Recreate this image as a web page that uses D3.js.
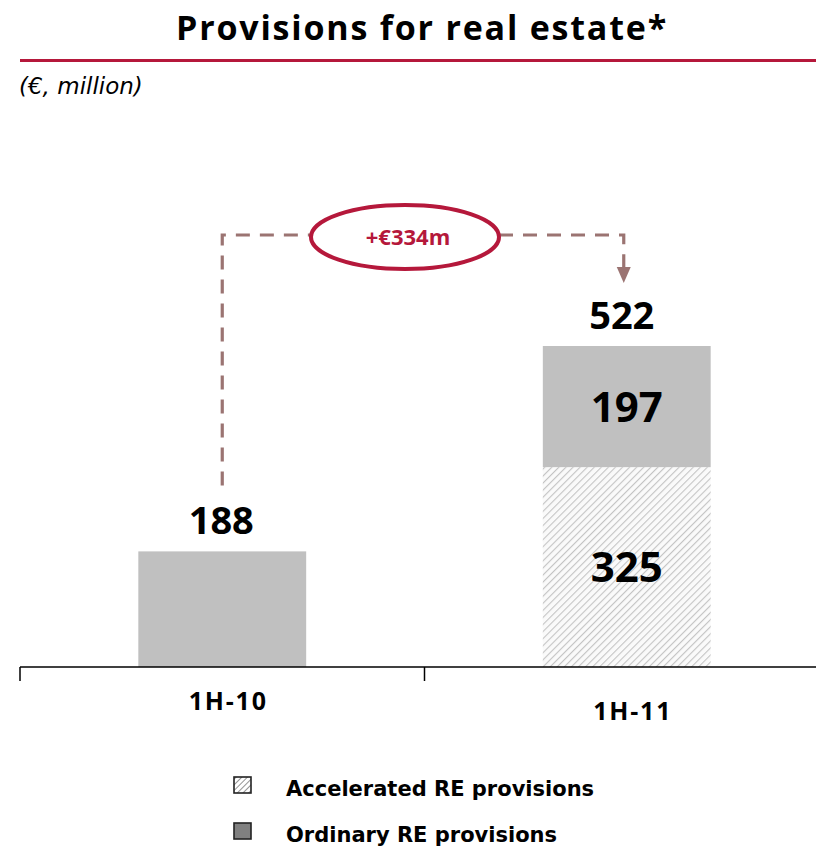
<!DOCTYPE html>
<html>
<head>
<meta charset="utf-8">
<script src="https://cdn.jsdelivr.net/npm/d3@7/dist/d3.min.js"></script>
<style>
  html, body { margin: 0; padding: 0; background: #fff; }
  svg { display: block; }
</style>
</head>
<body>
<script>
// Provisions for real estate, € million
const categories = ["1H-10", "1H-11"];
const accelerated = [0, 325];
const ordinary = [188, 197];
const seriesNames = ["Accelerated RE provisions", "Ordinary RE provisions"];

const W = 816, H = 848;
const numFont = "Open Sans, Liberation Sans, Arial, sans-serif";
const legFont = "DejaVu Sans, Verdana, sans-serif";

const svg = d3.select("body").append("svg").attr("width", W).attr("height", H);

const defs = svg.append("defs");
const hatch = defs.append("pattern")
  .attr("id", "hatch").attr("patternUnits", "userSpaceOnUse")
  .attr("width", 5).attr("height", 5)
  .attr("patternTransform", "rotate(45)");
hatch.append("rect").attr("width", 5).attr("height", 5).attr("fill", "#fafafa");
hatch.append("line").attr("x1", 0).attr("y1", 0).attr("x2", 0).attr("y2", 5)
  .attr("stroke", "#c4c4c4").attr("stroke-width", 2.2);

const hatchSmall = defs.append("pattern")
  .attr("id", "hatchSmall").attr("patternUnits", "userSpaceOnUse")
  .attr("width", 4).attr("height", 4)
  .attr("patternTransform", "rotate(45)");
hatchSmall.append("rect").attr("width", 4).attr("height", 4).attr("fill", "#fff");
hatchSmall.append("line").attr("x1", 0).attr("y1", 0).attr("x2", 0).attr("y2", 4)
  .attr("stroke", "#777").attr("stroke-width", 1.6);

// Title and rule
svg.append("text").attr("x", 422).attr("y", 40).attr("text-anchor", "middle")
  .attr("font-family", numFont).attr("font-weight", "bold")
  .attr("letter-spacing", 1.8)
  .attr("font-size", 34).attr("fill", "#000").text("Provisions for real estate*");
svg.append("rect").attr("x", 20).attr("y", 59).attr("width", W - 20).attr("height", 3)
  .attr("fill", "#b5183b");
svg.append("text").attr("x", 19).attr("y", 94)
  .attr("font-family", "DejaVu Sans, Verdana, sans-serif").attr("font-style", "italic")
  .attr("font-size", 23).attr("fill", "#000").text("(€, million)");

// Scales
const x = d3.scaleBand().domain(categories).range([20, 829])
  .paddingInner(0.585).paddingOuter(0.2925);
const step = x.step();
const totals = categories.map((c, i) => accelerated[i] + ordinary[i]);
const y = d3.scaleLinear().domain([0, d3.max(totals)]).range([667, 346]);

const rows = categories.map((c, i) => ({ cat: c, accelerated: accelerated[i], ordinary: ordinary[i] }));
const stack = d3.stack().keys(["accelerated", "ordinary"])(rows);
const fills = { accelerated: "url(#hatch)", ordinary: "#c0c0c0" };

svg.append("g").selectAll("g").data(stack).join("g")
  .attr("fill", d => fills[d.key])
  .selectAll("rect").data(d => d.filter(p => p[1] > p[0])).join("rect")
  .attr("x", d => x(d.data.cat))
  .attr("width", x.bandwidth())
  .attr("y", d => y(d[1]))
  .attr("height", d => y(d[0]) - y(d[1]));

// Axis
const axisG = svg.append("g").attr("stroke", "#000").attr("stroke-width", 1.5);
axisG.append("line").attr("x1", 20).attr("x2", W).attr("y1", y(0)).attr("y2", y(0));
const tickXs = [20].concat(categories.map(c => x(c) - x.step() * x.paddingInner() / 2 + step));
axisG.selectAll("line.tick").data(tickXs).join("line").attr("class", "tick")
  .attr("x1", d => d).attr("x2", d => d).attr("y1", y(0)).attr("y2", y(0) + 14);

const labelY = [710, 720];
svg.append("g").selectAll("text").data(categories).join("text")
  .attr("x", (d, i) => x(d) + x.bandwidth() / 2 + 6)
  .attr("y", (d, i) => labelY[i])
  .attr("text-anchor", "middle")
  .attr("font-family", numFont).attr("font-weight", "bold")
  .attr("letter-spacing", 1.8)
  .attr("font-size", 25).text(d => d);

// Segment value labels inside the stacked bar
const segLabels = [];
stack.forEach(s => s.forEach(p => {
  if (p[1] > p[0] && p.data.accelerated > 0) segLabels.push(p);
}));
svg.append("g").selectAll("text").data(segLabels).join("text")
  .attr("x", d => x(d.data.cat) + x.bandwidth() / 2)
  .attr("y", d => (y(d[0]) + y(d[1])) / 2 + 15)
  .attr("text-anchor", "middle")
  .attr("font-family", numFont).attr("font-weight", "bold")
  .attr("font-size", 42).attr("fill", "#000").text(d => d[1] - d[0]);

// Totals above bars
svg.append("g").selectAll("text").data(rows).join("text")
  .attr("x", d => x(d.cat) + x.bandwidth() / 2 - (d.accelerated > 0 ? 5 : 1))
  .attr("y", (d, i) => y(totals[i]) - 17)
  .attr("text-anchor", "middle")
  .attr("font-family", numFont).attr("font-weight", "bold")
  .attr("font-size", 38).attr("fill", "#000").text((d, i) => totals[i]);

// Change connector
const c0 = x(categories[0]) + x.bandwidth() / 2;
const c1 = x(categories[1]) + x.bandwidth() / 2 - 3;
const lineY = 235;
const ex = 405, ey = 237, erx = 94, ery = 32;
const dashColor = "#9b7472";
const conn = svg.append("g").attr("fill", "none").attr("stroke", dashColor)
  .attr("stroke-width", 3.2).attr("stroke-dasharray", "14,10");
conn.append("path").attr("d", `M${c0},${y(totals[0]) - 66} V${lineY} H${ex - erx}`);
conn.append("path").attr("d", `M${ex + erx},${lineY} H${c1} V${268}`);
svg.append("path")
  .attr("d", `M${c1 - 7},${267} L${c1 + 7},${267} L${c1},${283} Z`)
  .attr("fill", dashColor);

svg.append("ellipse").attr("cx", ex).attr("cy", ey).attr("rx", erx).attr("ry", ery)
  .attr("fill", "#fff").attr("stroke", "#b5183b").attr("stroke-width", 4);
svg.append("text").attr("x", ex + 3).attr("y", ey + 8).attr("text-anchor", "middle")
  .attr("font-family", numFont).attr("font-weight", "bold")
  .attr("font-size", 22).attr("fill", "#b5183b")
  .text("+€" + (totals[1] - totals[0]) + "m");

// Legend
const legend = svg.append("g");
const legendFills = ["url(#hatchSmall)", "#808080"];
const legendY = [777, 823];
seriesNames.forEach((name, i) => {
  legend.append("rect").attr("x", 234).attr("y", legendY[i]).attr("width", 17).attr("height", 16)
    .attr("fill", legendFills[i]).attr("stroke", "#222").attr("stroke-width", 1.6);
  legend.append("text").attr("x", 286).attr("y", legendY[i] + 19)
    .attr("font-family", legFont).attr("font-weight", "bold")
    .attr("font-size", 21).attr("fill", "#000").text(name);
});
</script>
</body>
</html>
